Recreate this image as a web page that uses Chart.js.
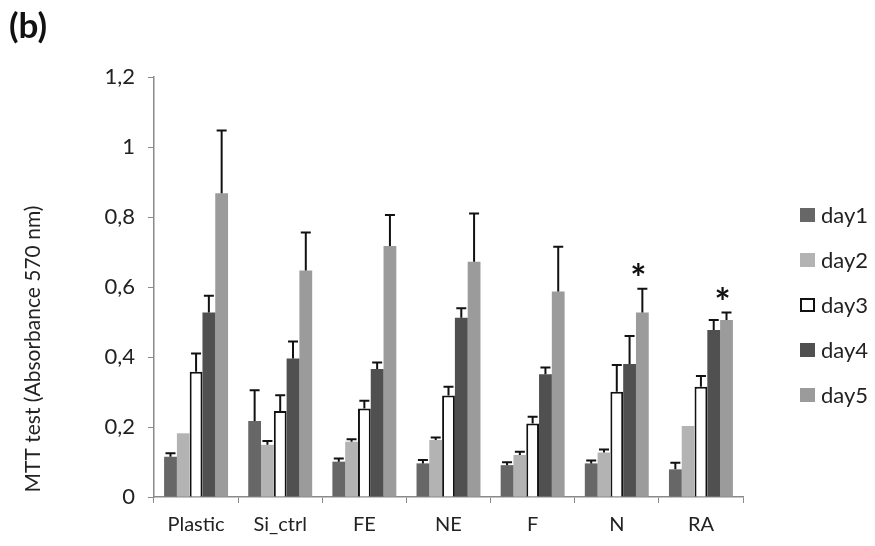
<!DOCTYPE html>
<html>
<head>
<meta charset="utf-8">
<script src="https://cdn.jsdelivr.net/npm/chart.js@4"></script>
<style>
    html, body { margin: 0; padding: 0; background: #fff; }
    #wrap { position: relative; width: 875px; height: 546px; }
    #panel { position: absolute; left: 9px; top: 3px; font: bold 35px Lato, sans-serif; color: #111; }
</style>
</head>
<body>
<div id="wrap">
    <canvas id="chart" width="875" height="546"></canvas>
    <div id="panel">(b)</div>
</div>
<script>
// ---------- DATA ----------
const categories = ['Plastic', 'Si_ctrl', 'FE', 'NE', 'F', 'N', 'RA'];
const seriesNames = ['day1', 'day2', 'day3', 'day4', 'day5'];

const day1 = [0.115, 0.217, 0.101, 0.096, 0.091, 0.096, 0.079];
const day2 = [0.182, 0.149, 0.158, 0.163, 0.120, 0.127, 0.203];
const day3 = [0.358, 0.246, 0.253, 0.290, 0.210, 0.301, 0.315];
const day4 = [0.527, 0.396, 0.366, 0.512, 0.351, 0.380, 0.477];
const day5 = [0.868, 0.647, 0.717, 0.672, 0.587, 0.527, 0.506];

// upper error (SD)
const err1 = [0.010, 0.088, 0.009, 0.010, 0.008, 0.008, 0.019];
const err2 = [0.000, 0.011, 0.007, 0.007, 0.009, 0.009, 0.000];
const err3 = [0.052, 0.045, 0.022, 0.025, 0.019, 0.076, 0.031];
const err4 = [0.048, 0.048, 0.018, 0.027, 0.019, 0.080, 0.029];
const err5 = [0.179, 0.109, 0.089, 0.138, 0.128, 0.068, 0.021];

const yTickLabels = ['0', '0,2', '0,4', '0,6', '0,8', '1', '1,2'];
const yTitle = 'MTT test (Absorbance 570 nm)';

// significance marks: [category index, series index]
const stars = [[5, 4], [6, 4]];

const values = [day1, day2, day3, day4, day5];
const errors = [err1, err2, err3, err4, err5];
const fills = ['#676767', '#b3b3b3', '#ffffff', '#505050', '#9b9b9b'];

const FONT = 'Lato, "Open Sans", sans-serif';

// ---------- PLUGINS ----------
const errorBars = {
    id: 'errorBars',
    afterDatasetsDraw(chart) {
        const ctx = chart.ctx;
        const y = chart.scales.y;
        ctx.save();
        ctx.strokeStyle = '#111';
        ctx.lineWidth = 2;
        chart.data.datasets.forEach((ds, i) => {
            const meta = chart.getDatasetMeta(i);
            meta.data.forEach((bar, j) => {
                const e = ds.errors[j];
                if (!e) return;
                const top = y.getPixelForValue(ds.data[j] + e);
                ctx.beginPath();
                ctx.moveTo(bar.x, bar.y);
                ctx.lineTo(bar.x, top);
                ctx.moveTo(bar.x - 5, top);
                ctx.lineTo(bar.x + 5, top);
                ctx.stroke();
            });
        });

        // asterisks
        ctx.fillStyle = '#111';
        ctx.font = 'bold 38px ' + FONT;
        ctx.textAlign = 'center';
        ctx.textBaseline = 'alphabetic';
        stars.forEach(([c, s]) => {
            const bar = chart.getDatasetMeta(s).data[c];
            const ds = chart.data.datasets[s];
            const top = y.getPixelForValue(ds.data[c] + ds.errors[c]);
            ctx.fillText('*', bar.x - 4, top + 3);
        });
        ctx.restore();
    }
};

const extras = {
    id: 'extras',
    afterDraw(chart) {
        const ctx = chart.ctx;
        ctx.save();
        // y axis title
        ctx.fillStyle = '#222';
        ctx.font = '21px ' + FONT;
        ctx.textAlign = 'center';
        ctx.textBaseline = 'middle';
        ctx.translate(33, 349);
        ctx.rotate(-Math.PI / 2);
        ctx.fillText(yTitle, 0, 0);
        ctx.setTransform(1, 0, 0, 1, 0, 0);

        // legend
        ctx.font = '22px ' + FONT;
        ctx.textAlign = 'left';
        chart.data.datasets.forEach((ds, i) => {
            const cy = 215 + i * 45;
            ctx.fillStyle = ds.backgroundColor;
            ctx.fillRect(800, cy - 7, 15, 14);
            if (ds.borderWidth) {
                ctx.strokeStyle = '#111';
                ctx.lineWidth = 2;
                ctx.strokeRect(801, cy - 6, 13, 12);
            }
            ctx.fillStyle = '#222';
            ctx.fillText(ds.label, 821, cy + 1);
        });
        ctx.restore();
    }
};

// ---------- CHART ----------
new Chart(document.getElementById('chart'), {
    type: 'bar',
    data: {
        labels: categories,
        datasets: seriesNames.map((name, i) => ({
            label: name,
            data: values[i],
            errors: errors[i],
            backgroundColor: fills[i],
            borderColor: '#111',
            borderWidth: i === 2 ? 2 : 0,
            barPercentage: 1,
            categoryPercentage: 0.76
        }))
    },
    options: {
        responsive: false,
        animation: false,
        layout: { padding: { top: 77, right: 132, bottom: 0, left: 0 } },
        plugins: {
            legend: { display: false },
            tooltip: { enabled: false }
        },
        scales: {
            x: {
                afterFit: s => { s.height = 49; },
                grid: { drawOnChartArea: false, tickLength: 6, color: '#8a8a8a', offset: true },
                border: { color: '#8a8a8a', width: 1.5 },
                ticks: { color: '#222', font: { family: FONT, size: 20 }, padding: 10 }
            },
            y: {
                min: 0,
                max: 1.2,
                afterFit: s => { s.width = 154; },
                grid: { drawOnChartArea: false, tickLength: 6, color: '#8a8a8a' },
                border: { color: '#8a8a8a', width: 1.5 },
                ticks: {
                    stepSize: 0.2,
                    color: '#222',
                    padding: 13,
                    font: { family: FONT, size: 22 },
                    callback: (v, i) => yTickLabels[i]
                }
            }
        }
    },
    plugins: [errorBars, extras]
});
</script>
</body>
</html>
